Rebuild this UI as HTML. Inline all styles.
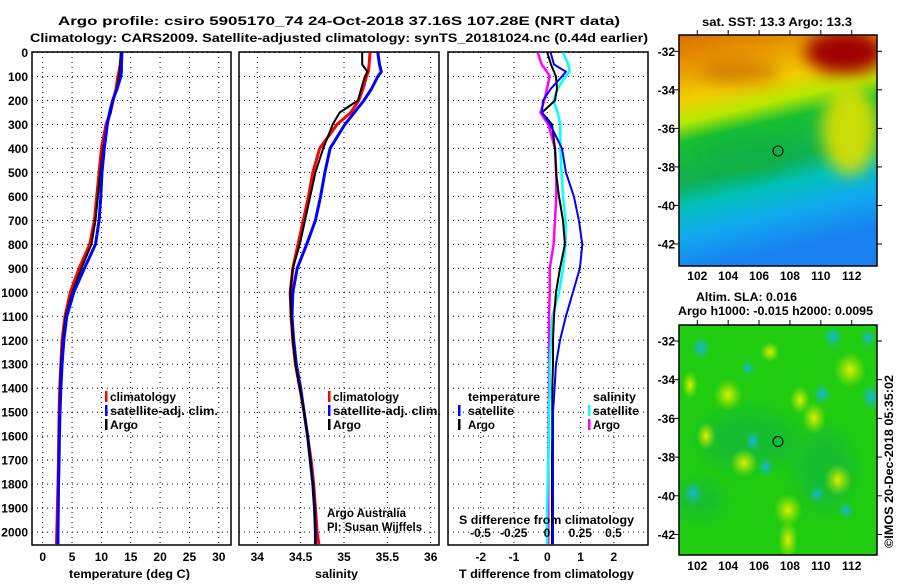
<!DOCTYPE html>
<html><head><meta charset="utf-8"><style>
body{margin:0;background:#fff}
svg text{font-family:"Liberation Sans",Arial,sans-serif;font-weight:bold;font-size:12px;fill:#000}
</style></head><body>
<svg id="c" width="900" height="580" xmlns="http://www.w3.org/2000/svg">
<defs>
<linearGradient id="sstg" x1="0" y1="0" x2="0.2" y2="1">
<stop offset="0" stop-color="#d87000"/><stop offset="0.14" stop-color="#e89800"/>
<stop offset="0.27" stop-color="#f2cc00"/><stop offset="0.37" stop-color="#b8e800"/>
<stop offset="0.45" stop-color="#18c030"/><stop offset="0.62" stop-color="#10b050"/>
<stop offset="0.72" stop-color="#00c0b8"/><stop offset="0.85" stop-color="#10a8f0"/>
<stop offset="1" stop-color="#1880f0"/></linearGradient>
<radialGradient id="dr"><stop offset="0" stop-color="#a80000"/><stop offset="0.6" stop-color="#b81800" stop-opacity="0.9"/><stop offset="1" stop-color="#c84000" stop-opacity="0"/></radialGradient>
<radialGradient id="yr"><stop offset="0" stop-color="#e8e000"/><stop offset="1" stop-color="#e8e000" stop-opacity="0"/></radialGradient>
<radialGradient id="by"><stop offset="0" stop-color="#e0f000"/><stop offset="1" stop-color="#b0e800" stop-opacity="0"/></radialGradient>
<radialGradient id="bc"><stop offset="0" stop-color="#10b8e0"/><stop offset="1" stop-color="#20b8a0" stop-opacity="0"/></radialGradient>
<filter id="bl" x="-50%" y="-50%" width="200%" height="200%"><feGaussianBlur stdDeviation="8"/></filter>
<clipPath id="m1c"><rect x="679" y="35" width="198" height="231"/></clipPath>
<clipPath id="m2c"><rect x="679" y="325" width="198" height="230"/></clipPath>
</defs>
<text x="339" y="25" text-anchor="middle" font-size="14" textLength="562" lengthAdjust="spacingAndGlyphs">Argo profile: csiro 5905170_74 24-Oct-2018 37.16S 107.28E (NRT data)</text>
<text x="339" y="42" text-anchor="middle" font-size="14" textLength="618" lengthAdjust="spacingAndGlyphs">Climatology: CARS2009. Satellite-adjusted climatology: synTS_20181024.nc (0.44d earlier)</text>
<g id="maps"></g>
<g id="plots"></g>
</svg>
<script>
// depth grid shared by profiles
const depths = [0,50,80,100,150,200,250,300,400,500,600,700,800,900,1000,1100,1200,1300,1400,1500,1600,1700,1800,1900,2000,2050];
const argoT = [13.3,13.2,13.1,13.0,12.6,12.0,11.6,11.0,10.3,9.8,9.4,9.0,8.3,6.6,5.0,3.9,3.4,3.1,2.95,2.85,2.75,2.7,2.65,2.6,2.55,2.5];
const climT = [13.4,13.2,13.0,12.8,12.5,12.0,11.5,10.8,10.0,9.6,9.2,8.8,8.0,6.2,4.7,3.8,3.3,3.1,2.9,2.8,2.75,2.7,2.6,2.5,2.4,2.35];
const satT  = [13.5,13.4,13.4,13.3,12.7,11.9,11.4,11.0,10.5,10.1,9.9,9.6,9.0,7.1,5.3,4.1,3.6,3.3,3.1,2.95,2.85,2.8,2.7,2.65,2.6,2.6];
const argoS = [35.21,35.21,35.27,35.24,35.2,35.16,34.95,34.87,34.76,34.67,34.61,34.55,34.49,34.41,34.38,34.39,34.41,34.44,34.49,34.54,34.58,34.61,34.64,34.66,34.67,34.67];
const climS = [35.30,35.29,35.28,35.26,35.22,35.17,35.08,34.92,34.72,34.64,34.59,34.53,34.47,34.41,34.38,34.39,34.41,34.44,34.49,34.54,34.58,34.62,34.65,34.67,34.69,34.71];
const satS  = [35.39,35.41,35.43,35.39,35.32,35.23,35.12,35.01,34.84,34.78,34.73,34.67,34.57,34.46,34.41,34.40,34.42,34.45,34.50,34.54,34.58,34.61,34.64,34.66,34.67,34.67];
const satTdiff  = [0.1,0.2,0.56,0.44,0.11,-0.13,-0.16,0.08,0.44,0.56,0.8,0.95,1.05,0.98,0.77,0.56,0.38,0.26,0.22,0.17,0.17,0.17,0.17,0.17,0.17,0.17];
const argoTdiff = [0,0.11,0.2,0.26,0.29,0.23,-0.16,0.14,0.23,0.26,0.35,0.47,0.53,0.38,0.26,0.2,0.17,0.17,0.15,0.15,0.15,0.14,0.14,0.14,0.14,0.14];
const satSdiff  = [0.12,0.16,0.17,0.14,0.08,0.05,0.08,0.1,0.1,0.11,0.12,0.14,0.14,0.12,0.09,0.04,0.03,0.02,0.02,0.015,0.015,0.01,0.005,0,0,0];
const argoSdiff = [-0.07,-0.04,0,0.02,0,-0.02,-0.05,0.01,0.06,0.07,0.07,0.06,0.05,0.02,0.02,0.015,0.015,0.015,0.015,0.012,0.012,0.01,0.01,0.01,0.01,0.01];
const depthTicks = [0,100,200,300,400,500,600,700,800,900,1000,1100,1200,1300,1400,1500,1600,1700,1800,1900,2000];
const tempTicks = [0,5,10,15,20,25,30];
const salTicks = [34,34.5,35,35.5,36];
const salTickLabels = ["34","34.5","35","35.5","36"];
const tdiffTicks = [-2,-1,0,1,2];
const sdiffTicks = [-0.5,-0.25,0,0.25,0.5];
const sdiffLabels = ["-0.5","-0.25","0","0.25","0.5"];
const latTicks = [-32,-34,-36,-38,-40,-42];
const lonTicks = [102,104,106,108,110,112];

const NS='http://www.w3.org/2000/svg';
const plots=document.getElementById('plots');
function mk(tag,attrs,parent){const e=document.createElementNS(NS,tag);for(const k in attrs)e.setAttribute(k,attrs[k]);(parent||plots).appendChild(e);return e;}
const TOP=52, BOT=545;
const yD = d => 52.5 + d*0.2398;

function panel(x0,x1,xs,ticks,labels,name){
  const g=mk('g',{});
  
  
  ticks.forEach(t=>{const x=xs(t);
    const l=mk('line',{x1:x,x2:x,y1:TOP,y2:BOT,stroke:'#000','stroke-width':1,'stroke-dasharray':'1,4'},g);
    
    
  });
  depthTicks.forEach(d=>{const y=yD(d);
    const l=mk('line',{x1:x0,x2:x1,y1:y,y2:y,stroke:'#000','stroke-width':1,'stroke-dasharray':'1,4'},g);
    
    
  });
  const r=mk('rect',{x:x0,y:TOP,width:x1-x0,height:BOT-TOP,fill:'none',stroke:'#000','stroke-width':1.5},g);
  
  
  if(labels){ticks.forEach((t,i)=>{
    const tx=mk('text',{x:xs(t),y:561,'text-anchor':'middle','font-size':13},g);tx.textContent=labels[i];
    
    
  });}
  return g;
}
function line(vals,xs,color,w,name){
  const pts=vals.map((v,i)=>xs(v).toFixed(1)+','+yD(depths[i]).toFixed(1)).join(' ');
  const p=mk('polyline',{points:pts,fill:'none',stroke:color,'stroke-width':w,'stroke-linejoin':'round'});
  
  
}
function txt(x,y,s,name,extra,tl){const a=Object.assign({x:x,y:y,'font-size':13},extra||{});
  if(tl){a.textLength=tl;a.lengthAdjust='spacingAndGlyphs';}
  const t=mk('text',a);t.textContent=s;
  
  
  return t;}
function mark(x,y,color,name){const r=mk('rect',{x:x,y:y-10,width:2.5,height:11,fill:color});
  
  }

// Panel 1 temperature
const xT = v => 42.7 + v*5.87;
panel(32,231,xT,tempTicks,tempTicks.map(String),'temperature-panel');
depthTicks.forEach(d=>{txt(28,yD(d)+4.5,String(d),'y-tick-label',{'text-anchor':'end'});});
line(climT,xT,'#ff0000',3,'temp-climatology-line');
line(argoT,xT,'#000',2,'temp-argo-line');
line(satT,xT,'#0000ff',3,'temp-satellite-line');
txt(69,578,'temperature (deg C)','temperature-axis-title',{},121);
mark(105,401,'#ff0000','legend-mark-climatology');txt(110,401,'climatology','legend-climatology',{},66);
mark(105,415,'#0000ff','legend-mark-satellite');txt(110,415,'satellite-adj. clim.','legend-satellite',{},108);
mark(105,429,'#000','legend-mark-argo');txt(110,429,'Argo','legend-argo',{},28);

// Panel 2 salinity
const xS = v => 257.3 + (v-34)*86.7;
panel(239,439,xS,salTicks,salTickLabels,'salinity-panel');
line(climS,xS,'#ff0000',3,'sal-climatology-line');
line(satS,xS,'#0000ff',3,'sal-satellite-line');
line(argoS,xS,'#000',2,'sal-argo-line');
txt(315,578,'salinity','salinity-axis-title',{},43);
mark(328,401,'#ff0000','legend-mark-climatology');txt(333,401,'climatology','legend-climatology',{},66);
mark(328,415,'#0000ff','legend-mark-satellite');txt(333,415,'satellite-adj. clim.','legend-satellite',{},108);
mark(328,429,'#000','legend-mark-argo');txt(333,429,'Argo','legend-argo',{},28);
txt(327,517,'Argo Australia','credit-argo-australia',{'font-weight':'normal'},79);
txt(327,531,'PI: Susan Wijffels','credit-pi',{'font-weight':'normal'},95);

// Panel 3 differences
const xTd = v => 547.3 + v*33.3;
const xSd = v => 547 + v*133;
panel(448,648,xTd,tdiffTicks,tdiffTicks.map(String),'difference-panel');
line(argoSdiff,xSd,'#ff00ff',2.5,'sdiff-argo-line');
line(satSdiff,xSd,'#00ffff',2.5,'sdiff-satellite-line');
line(argoTdiff,xTd,'#000',2,'tdiff-argo-line');
line(satTdiff,xTd,'#0000ff',2,'tdiff-satellite-line');
sdiffTicks.forEach((t,i)=>txt(xSd(t),537,sdiffLabels[i],'s-diff-tick-label',{'text-anchor':'middle'}));
txt(459,524,'S difference from climatology','s-diff-axis-title',{},175);
txt(459,578,'T difference from climatology','t-diff-axis-title',{},175);
txt(468,401,'temperature','legend-temperature-header',{},72);
mark(458,415,'#0000ff','legend-mark-t-satellite');txt(468,415,'satellite','legend-t-satellite',{},46);
mark(458,429,'#000','legend-mark-t-argo');txt(468,429,'Argo','legend-t-argo',{},27);
txt(593,401,'salinity','legend-salinity-header',{},43);
mark(588,415,'#00ffff','legend-mark-s-satellite');txt(593,415,'satellite','legend-s-satellite',{},46);
mark(588,429,'#ff00ff','legend-mark-s-argo');txt(593,429,'Argo','legend-s-argo',{},27);

// Maps
const maps=document.getElementById('maps');
function mg(tag,attrs,parent,name){const e=document.createElementNS(NS,tag);for(const k in attrs)e.setAttribute(k,attrs[k]);parent.appendChild(e);
  
  
  return e;}
const lonX = v => 697.3 + (v-102)*15.44;
const lat1 = v => 51.3 + (-32 - v)*19.27;
const lat2 = v => 341 + (-32 - v)*19.35;
// SST map
const g1=mg('g',{'clip-path':'url(#m1c)'},maps,'sst-map');
mg('rect',{x:679,y:35,width:198,height:231,fill:'url(#sstg)'},g1,'sst-field');
mg('ellipse',{cx:845,cy:52,rx:40,ry:22,fill:'#a00000',filter:'url(#bl)'},g1,'sst-warm-region');
mg('ellipse',{cx:740,cy:72,rx:40,ry:12,fill:'#c86000',opacity:0.6,filter:'url(#bl)'},g1,'sst-warm-region-west');
mg('ellipse',{cx:850,cy:130,rx:28,ry:45,fill:'#e0e000',filter:'url(#bl)',opacity:0.9},g1,'sst-yellow-tongue');
mg('ellipse',{cx:745,cy:155,rx:45,ry:20,fill:'#10b040',opacity:0.6,filter:'url(#bl)'},g1,'sst-green-core');
mg('rect',{x:679,y:35,width:198,height:231,fill:'none',stroke:'#000','stroke-width':1.5},maps,'sst-map-frame');
mg('circle',{cx:778,cy:151,r:5,fill:'none',stroke:'#000','stroke-width':1},maps,'argo-location-marker');
// SLA map
const g2=mg('g',{'clip-path':'url(#m2c)'},maps,'sla-map');
mg('rect',{x:679,y:325,width:198,height:230,fill:'#20cc10'},g2,'sla-field');
[[748,440,50,30],[825,470,30,40],[700,500,25,18]].forEach(b=>mg('ellipse',{cx:b[0],cy:b[1],rx:b[2],ry:b[3],fill:'#10b050',opacity:0.5,filter:'url(#bl)'},g2,'sla-low-area'));
[[850,370,16,18],[728,395,14,16],[800,400,10,14],[814,418,12,16],[706,436,10,14],[744,463,14,14],[838,480,14,16],[788,510,14,16],[788,540,10,20],[690,385,8,14],[770,352,10,10]].forEach(b=>mg('ellipse',{cx:b[0],cy:b[1],rx:b[2],ry:b[3],fill:'url(#by)'},g2,'sla-high-blob'));
[[701,348,10,12],[833,337,10,12],[871,397,10,14],[822,394,9,11],[753,441,8,11],[766,467,8,10],[693,493,10,12],[817,494,8,9],[846,510,8,9],[748,368,7,8],[868,338,8,10]].forEach(b=>mg('ellipse',{cx:b[0],cy:b[1],rx:b[2],ry:b[3],fill:'url(#bc)'},g2,'sla-low-blob'));
mg('rect',{x:679,y:325,width:198,height:230,fill:'none',stroke:'#000','stroke-width':1.5},maps,'sla-map-frame');
mg('circle',{cx:778,cy:441.5,r:5,fill:'none',stroke:'#000','stroke-width':1},maps,'argo-location-marker-sla');
// map axes
[[35,266,lat1,280],[325,555,lat2,570]].forEach(m=>{
  latTicks.forEach(t=>{const y=m[2](t);
    mg('line',{x1:674,x2:679,y1:y,y2:y,stroke:'#000'},maps,'lat-tick');
    mg('line',{x1:877,x2:882,y1:y,y2:y,stroke:'#000'},maps,'lat-tick-right');
    const tx=mg('text',{x:675,y:y+4.5,'text-anchor':'end','font-size':13},maps,'lat-tick-label');tx.textContent=String(t);});
  lonTicks.forEach(t=>{const x=lonX(t);
    mg('line',{x1:x,x2:x,y1:m[0]-5,y2:m[0],stroke:'#000'},maps,'lon-tick');
    const tx=mg('text',{x:x,y:m[3],'text-anchor':'middle','font-size':13},maps,'lon-tick-label');tx.textContent=String(t);});
});
const t1=mg('text',{x:702,y:26,'font-size':13,textLength:150,lengthAdjust:'spacingAndGlyphs'},maps,'sst-map-title');t1.textContent='sat. SST: 13.3 Argo: 13.3';
const t2=mg('text',{x:696,y:301,'font-size':13,textLength:101,lengthAdjust:'spacingAndGlyphs'},maps,'sla-map-title');t2.textContent='Altim. SLA: 0.016';
const t3=mg('text',{x:678,y:315,'font-size':13,textLength:195,lengthAdjust:'spacingAndGlyphs'},maps,'sla-map-subtitle');t3.textContent='Argo h1000: -0.015 h2000: 0.0095';
const t4=mg('text',{x:893,y:548,transform:'rotate(-90 893 548)','font-weight':'normal','font-size':13,textLength:173,lengthAdjust:'spacingAndGlyphs'},maps,'imos-timestamp');t4.textContent='©IMOS 20-Dec-2018 05:35:02';
</script>
</body></html>
